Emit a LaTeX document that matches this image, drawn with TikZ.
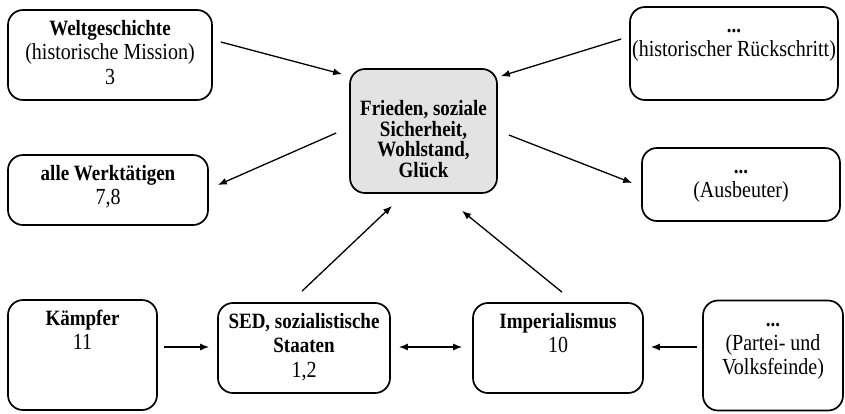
\documentclass[tikz,border=0pt]{standalone}
\usepackage{fontspec}
\setmainfont{Liberation Serif}
\usetikzlibrary{arrows.meta}
\newcommand{\fett}[1]{{\fontsize{19}{21}\selectfont\bfseries #1}}
\tikzset{>={Latex[length=9pt,width=7pt]}}
\tikzset{
  kasten/.style={draw,line width=1.7pt,rounded corners=15pt},
  kopf/.style={anchor=north,align=center,inner sep=0pt,yshift=-9.5pt,
    transform shape,yscale=1.15,font=\fontsize{20}{21}\selectfont},
  pfeil/.style={->,line width=1.3pt}
}

\begin{document}
\begin{tikzpicture}[x=1pt,y=-1pt]
    \useasboundingbox (0,0) rectangle (845,413);
    % obere Reihe
    \node[kasten,minimum width=204pt,minimum height=90pt,
      label={[kopf]north:{\strut\fett{Weltgeschichte}\\(historische Mission)\\3}}] (welt) at (110,55) {};
    \node[kasten,minimum width=208pt,minimum height=93pt,
      label={[kopf]north:{\strut\fett{...}\\(historischer Rückschritt)}}] (rueck) at (734,53.5) {};
    % Mitte
    \node[kasten,fill=gray!22,minimum width=147pt,minimum height=124pt,
      label={[align=center,yshift=-8pt,transform shape,yscale=1.15,
        font=\fontsize{19}{18}\selectfont\bfseries]center:{Frieden, soziale\\Sicherheit,\\Wohlstand,\\Glück}}] (ziel) at (423.5,131) {};
    \node[kasten,minimum width=200pt,minimum height=70pt,
      label={[kopf]north:{\strut\fett{alle Werktätigen}\\7,8}}] (werk) at (108,190) {};
    \node[kasten,minimum width=198pt,minimum height=73pt,
      label={[kopf]north:{\strut\fett{...}\\(Ausbeuter)}}] (ausb) at (741,184.5) {};
    % untere Reihe
    \node[kasten,minimum width=149pt,minimum height=110pt,
      label={[kopf]north:{\strut\fett{Kämpfer}\\11}}] (kaempfer) at (82.5,355) {};
    \node[kasten,minimum width=172pt,minimum height=90pt,
      label={[kopf]north:{\strut\fett{SED, sozialistische}\\\fett{Staaten}\\1,2}}] (sed) at (304,348) {};
    \node[kasten,minimum width=170pt,minimum height=90pt,
      label={[kopf]north:{\strut\fett{Imperialismus}\\10}}] (imp) at (558,348) {};
    \node[kasten,minimum width=140pt,minimum height=110pt,
      label={[kopf]north:{\strut\fett{...}\\(Partei- und\\Volksfeinde)}}] (partei) at (773,355.5) {};

    \draw[pfeil] ([shift={(8,-13)}]welt.east) -- ([shift={(-7,6)}]ziel.north west);
    \draw[pfeil] ([shift={(-13,2)}]ziel.west) -- ([shift={(9,-5)}]werk.east);
    \draw[pfeil] ([shift={(-8,-14.5)}]rueck.west) -- ([shift={(3,8)}]ziel.north east);
    \draw[pfeil] ([shift={(11,4)}]ziel.east) -- ([shift={(-9,-1.5)}]ausb.west);
    \draw[pfeil] ([shift={(-2,-11)}]sed.north) -- ([shift={(-31.5,12)}]ziel.south);
    \draw[pfeil] ([shift={(4,-10)}]imp.north) -- ([shift={(38.5,17)}]ziel.south);
    \draw[pfeil] ([shift={(6,-8)}]kaempfer.east) -- ([shift={(-8,-1)}]sed.west);
    \draw[pfeil,<->] ([shift={(8,-1)}]sed.east) -- ([shift={(-10,-1)}]imp.west);
    \draw[pfeil] ([shift={(-5,-8.5)}]partei.west) -- ([shift={(7,-1)}]imp.east);
\end{tikzpicture}
\end{document}
